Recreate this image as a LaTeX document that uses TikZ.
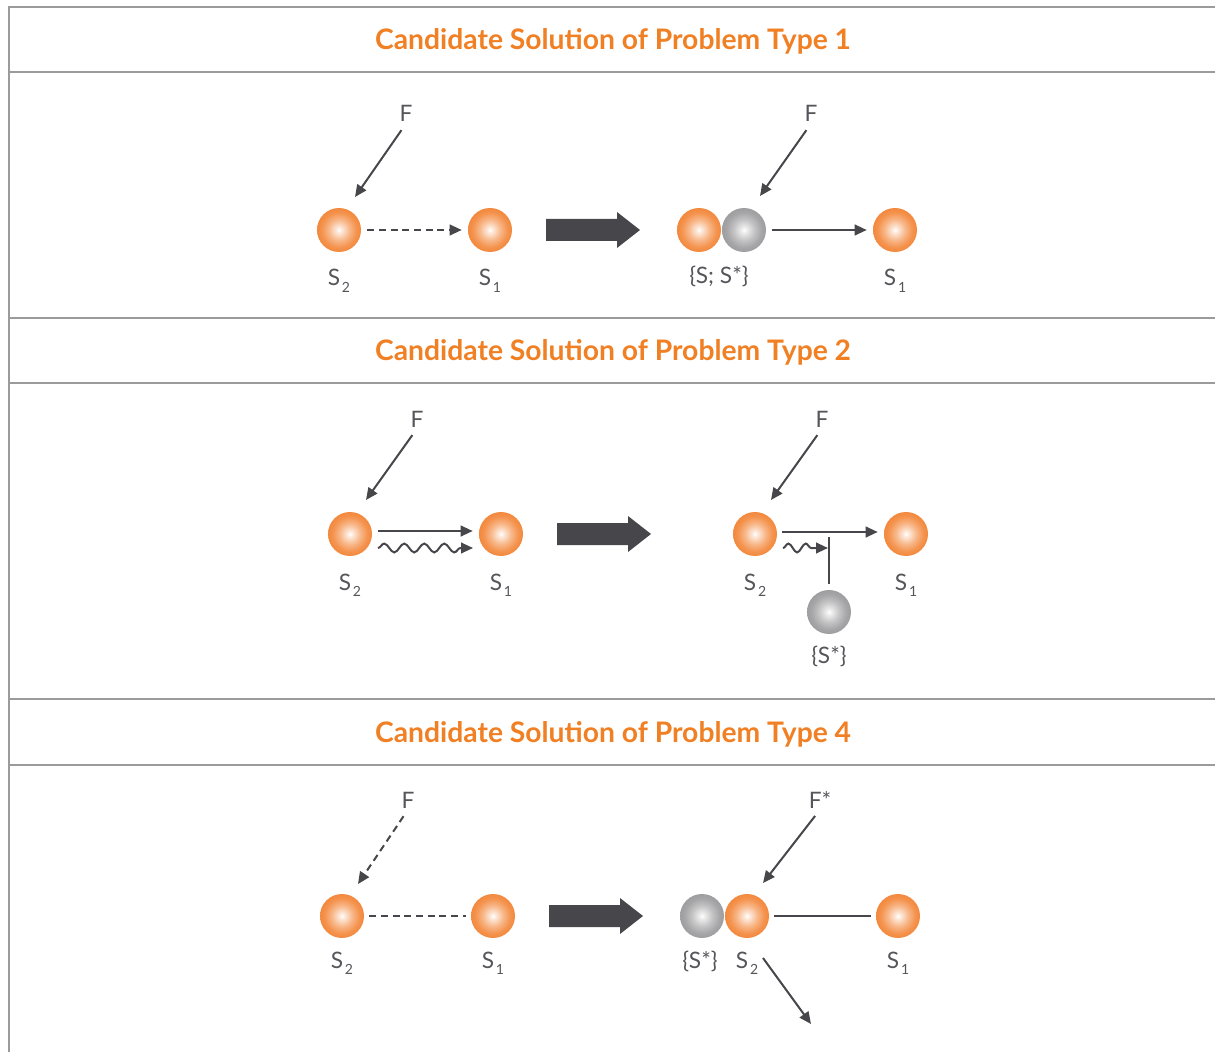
\documentclass[tikz,border=0pt]{standalone}
\usepackage{fontspec}
\setmainfont{Lato}
\usetikzlibrary{arrows.meta,decorations.pathmorphing}
\definecolor{oc}{RGB}{243,137,62}
\definecolor{gc}{RGB}{158,158,160}
\definecolor{ttlc}{RGB}{240,128,35}
\definecolor{labc}{RGB}{85,85,90}
\definecolor{arrc}{RGB}{70,70,75}
\definecolor{framec}{RGB}{155,155,155}
\pgfdeclareradialshading{oball}{\pgfpoint{0bp}{0bp}}{color(0bp)=(white); color(3bp)=(white!82!oc); color(12bp)=(oc!62!white); color(20bp)=(oc!92!white); color(25bp)=(oc); color(50bp)=(oc)}
\pgfdeclareradialshading{gball}{\pgfpoint{0bp}{0bp}}{color(0bp)=(white); color(3bp)=(white!82!gc); color(12bp)=(gc!62!white); color(20bp)=(gc!92!white); color(25bp)=(gc); color(50bp)=(gc)}
\newcommand{\sbs}[1]{\kern0.08em\raisebox{-0.28em}{\fontsize{10.5pt}{10.5pt}\selectfont #1}}
\begin{document}
\begin{tikzpicture}[x=0.75pt,y=-0.75pt,
  frame/.style={draw=framec,line width=1.8pt},
  obal/.style={circle,minimum size=33pt,inner sep=0pt,shade,shading=oball},
  gbal/.style={circle,minimum size=33pt,inner sep=0pt,shade,shading=gball},
  lab/.style={text=labc,inner sep=1pt,anchor=base,font=\fontsize{17pt}{20pt}\selectfont},
  ttl/.style={text=ttlc,anchor=base,inner sep=0pt,font=\fontsize{21.2pt}{24pt}\selectfont\bfseries},
  arr/.style={draw=arrc,line width=1.5pt,-{Triangle[length=9pt,width=8pt]}},
  lin/.style={draw=arrc,line width=1.5pt},
  dsh/.style={dash pattern=on 5.25pt off 3.5pt},
  wav/.style={decorate,decoration={snake,segment length=15pt,amplitude=3.3pt,post length=8pt}},
  bigarr/.style={fill=arrc}
]
\useasboundingbox (0,0) rectangle (1215,1052);
% frame
\draw[frame] (1215,7) -- (9,7) -- (9,1052);
\foreach \yy in {72,318,383,699,765} {\draw[frame] (9,\yy) -- (1215,\yy);}
% titles
\node[ttl] (T1) at (613,50) {Candidate Solution of Problem Type 1};
\node[ttl] (T2) at (613,360) {Candidate Solution of Problem Type 2};
\node[ttl] (T3) at (613,742) {Candidate Solution of Problem Type 4};

% ---------- section 1 ----------
\node[obal] (A2) at (339,230) {};
\node[obal] (A1) at (490,230) {};
\node[lab] (A2l) at (339,286) {S\sbs{2}};
\node[lab] (A1l) at (490,286) {S\sbs{1}};
\node[lab] (AF) at (406,122) {F};
\coordinate (AFt) at (355,197);
\draw[arr,shorten <=6pt] (AF.south) -- (AFt);
\draw[arr,dsh,shorten <=4.5pt,shorten >=4.5pt] (A2) -- (A1);
\fill[bigarr] (546,219) -- (617,219) -- (617,212) -- (640,230) -- (617,248) -- (617,241) -- (546,241) -- cycle;
\node[obal] (B0) at (699,230) {};
\node[gbal] (Bg) at (744,230) {};
\node[obal] (B1) at (895,230) {};
\node[lab] (Bl) at (719,284) {\{S; S*\}};
\node[lab] (B1l) at (895,286) {S\sbs{1}};
\node[lab] (BF) at (811,122) {F};
\coordinate (BFt) at (760,196);
\draw[arr,shorten <=6pt] (BF.south) -- (BFt);
\draw[arr,shorten <=4.5pt,shorten >=4.5pt] (Bg) -- (B1);

% ---------- section 2 ----------
\node[obal] (C2) at (350,534) {};
\node[obal] (C1) at (501,534) {};
\node[lab] (C2l) at (350,590) {S\sbs{2}};
\node[lab] (C1l) at (501,590) {S\sbs{1}};
\node[lab] (CF) at (417,427) {F};
\coordinate (CFt) at (366,500);
\draw[arr,shorten <=6pt] (CF.south) -- (CFt);
\draw[arr,shorten <=4.5pt,shorten >=4.5pt] ([yshift=2.25pt]C2.east) -- ([yshift=2.25pt]C1.west);
\coordinate (Cws) at (378,548);
\coordinate (Cwe) at (473,548);
\draw[arr,wav] (Cws) -- (Cwe);
\fill[bigarr] (557,523) -- (628,523) -- (628,516) -- (651,534) -- (628,552) -- (628,545) -- (557,545) -- cycle;
\node[obal] (D2) at (755,534) {};
\node[obal] (D1) at (906,534) {};
\node[gbal] (Dg) at (829,612) {};
\node[lab] (D2l) at (755,590) {S\sbs{2}};
\node[lab] (D1l) at (906,590) {S\sbs{1}};
\node[lab] (Dgl) at (829,663) {\{S*\}};
\node[lab] (DF) at (822,427) {F};
\coordinate (DFt) at (771,500);
\draw[arr,shorten <=6pt] (DF.south) -- (DFt);
\draw[arr,shorten <=3.75pt,shorten >=4.5pt] ([yshift=1.5pt]D2.east) -- ([yshift=1.5pt]D1.west);
\coordinate (Dbar) at (829,537);
\draw[lin,shorten <=4.5pt] (Dg.north) -- (Dbar);
\coordinate (Dws) at (783,548);
\coordinate (Dwe) at (828,548);
\draw[arr,decorate,decoration={snake,segment length=13pt,amplitude=3.3pt,post length=9pt}] (Dws) -- (Dwe);

% ---------- section 3 ----------
\node[obal] (E2) at (342,916) {};
\node[obal] (E1) at (493,916) {};
\node[lab] (E2l) at (342,968) {S\sbs{2}};
\node[lab] (E1l) at (493,968) {S\sbs{1}};
\node[lab] (EF) at (408,808) {F};
\coordinate (EFt) at (358,884);
\draw[arr,dsh,shorten <=6pt] (EF.south) -- (EFt);
\draw[lin,dsh,shorten <=3.75pt,shorten >=3.75pt] (E2) -- (E1);
\fill[bigarr] (549,905) -- (620,905) -- (620,898) -- (643,916) -- (620,934) -- (620,927) -- (549,927) -- cycle;
\node[gbal] (Eg) at (702,916) {};
\node[obal] (G2) at (747,916) {};
\node[obal] (G1) at (898,916) {};
\node[lab] (Egl) at (700,968) {\{S*\}};
\node[lab] (G2l) at (747,968) {S\sbs{2}};
\node[lab] (G1l) at (898,968) {S\sbs{1}};
\node[lab] (GF) at (820,808) {F*};
\coordinate (GFt) at (763,883);
\draw[arr,shorten <=6pt] (GF.south) -- (GFt);
\draw[lin,shorten <=3.75pt,shorten >=3.75pt] (G2) -- (G1);
\coordinate (Gas) at (763,958);
\coordinate (Gae) at (811,1024);
\draw[arr] (Gas) -- (Gae);
\end{tikzpicture}
\end{document}
